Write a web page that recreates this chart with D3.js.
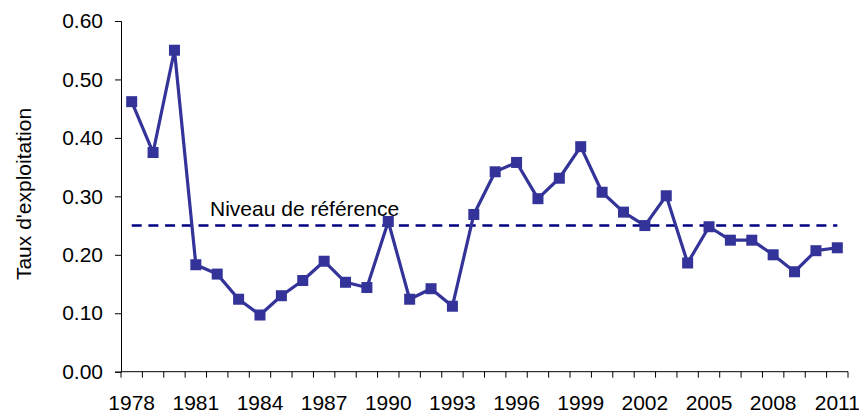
<!DOCTYPE html>
<html>
<head>
<meta charset="utf-8">
<script src="https://cdn.jsdelivr.net/npm/d3@7"></script>
<style>
  body { margin: 0; background: #fff; }
  svg text { font-family: "Liberation Sans", Arial, sans-serif; fill: #000; }
</style>
</head>
<body>
<svg width="859" height="413"></svg>
<script>
// data
const years = d3.range(1978, 2012).map(String);
const rates = [
  0.462, 0.375, 0.550, 0.183, 0.167, 0.124, 0.097, 0.130, 0.156, 0.189,
  0.153, 0.144, 0.257, 0.124, 0.142, 0.112, 0.269, 0.342, 0.358, 0.296,
  0.331, 0.385, 0.307, 0.273, 0.250, 0.301, 0.186, 0.248, 0.225, 0.225,
  0.200, 0.171, 0.207, 0.212
];
const yTicks = [0, 0.1, 0.2, 0.3, 0.4, 0.5, 0.6];
const labelYears = years.filter((d, i) => i % 3 === 0);
const refLevel = 0.25;
const refLabel = "Niveau de référence";
const yTitle = "Taux d'exploitation";

const svg = d3.select("svg");
const plotLeft = 121, plotRight = 848, plotTop = 21, plotBottom = 371.7;

const x = d3.scaleBand().domain(years).range([plotLeft, plotRight]);
const y = d3.scaleLinear().domain([0, 0.6]).range([plotBottom, plotTop]);
const cx = d => x(d) + x.bandwidth() / 2;

// y axis
const yAxis = svg.append("g")
  .attr("transform", `translate(${plotLeft},0)`)
  .call(d3.axisLeft(y).tickValues(yTicks).tickFormat(d3.format(".2f")).tickSize(6).tickPadding(12));
yAxis.selectAll("text").attr("font-size", 21).style("font-family", "Liberation Sans, Arial, sans-serif");
yAxis.select(".domain").attr("stroke", "#000");
yAxis.selectAll(".tick line").attr("stroke", "#000");

// x axis: ticks on category boundaries, labels every 3 years
const xAxis = svg.append("g").attr("transform", `translate(0,${plotBottom})`);
xAxis.append("line").attr("x1", plotLeft).attr("x2", plotRight).attr("stroke", "#000");
const bounds = years.map(d => x(d)).concat([plotRight]);
xAxis.selectAll("line.tick").data(bounds).join("line")
  .attr("class", "tick")
  .attr("x1", d => d).attr("x2", d => d)
  .attr("y1", 0).attr("y2", 6)
  .attr("stroke", "#000");
xAxis.selectAll("text").data(labelYears).join("text")
  .attr("x", d => cx(d))
  .attr("y", 38)
  .attr("text-anchor", "middle")
  .attr("font-size", 21)
  .text(d => d);

// reference line
svg.append("line")
  .attr("x1", cx(years[0]))
  .attr("x2", cx(years[years.length - 1]))
  .attr("y1", y(refLevel)).attr("y2", y(refLevel))
  .attr("stroke", "#000080")
  .attr("stroke-width", 2.5)
  .attr("stroke-dasharray", "10,6.7");

svg.append("text")
  .attr("x", 210)
  .attr("y", y(refLevel) - 9.5)
  .attr("font-size", 21)
  .text(refLabel);

// series
const line = d3.line().x((d, i) => cx(years[i])).y(d => y(d));
svg.append("path")
  .datum(rates)
  .attr("fill", "none")
  .attr("stroke", "#333399")
  .attr("stroke-width", 3.2)
  .attr("stroke-linejoin", "round")
  .attr("d", line);

svg.append("g").selectAll("rect").data(rates).join("rect")
  .attr("x", (d, i) => cx(years[i]) - 5.5)
  .attr("y", d => y(d) - 5.5)
  .attr("width", 11).attr("height", 11)
  .attr("fill", "#333399");

// y title
svg.append("text")
  .attr("transform", `translate(31,194) rotate(-90)`)
  .attr("text-anchor", "middle")
  .attr("font-size", 21)
  .text(yTitle);
</script>
</body>
</html>
